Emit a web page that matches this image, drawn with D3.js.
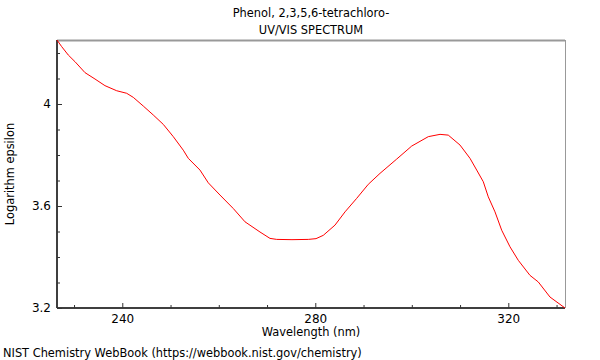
<!DOCTYPE html>
<html><head><meta charset="utf-8">
<script src="https://cdn.jsdelivr.net/npm/d3@7"></script>
<style>body{margin:0;background:#fff}svg{display:block}text{font-family:"DejaVu Sans",sans-serif;fill:#000}</style>
</head><body><svg id="c" width="600" height="360"></svg>
<script>
const wavelength = [226.47,227.44,228.81,230.20,232.27,234.34,236.41,238.84,240.91,242.28,244.35,246.42,248.50,250.57,252.64,253.68,256.10,257.82,260.25,263.01,265.43,268.54,270.61,272.00,275.17,278.55,280.15,281.66,284.08,286.16,288.58,290.98,293.41,296.87,299.98,303.42,305.85,307.56,309.99,312.06,313.45,314.82,315.85,317.24,318.63,320.35,322.07,324.49,326.22,328.64,331.75];
const logEps = [4.251,4.225,4.192,4.166,4.123,4.098,4.072,4.052,4.042,4.026,3.992,3.957,3.920,3.872,3.819,3.787,3.741,3.691,3.643,3.590,3.538,3.498,3.473,3.469,3.468,3.469,3.472,3.485,3.525,3.577,3.630,3.685,3.728,3.784,3.835,3.872,3.881,3.878,3.839,3.787,3.741,3.695,3.636,3.577,3.505,3.440,3.387,3.328,3.302,3.243,3.200];
const xMajor = [240,280,320];
const xMinor = [230,250,260,270,290,300,310,330];
const yMajor = [3.2,3.6,4.0];
const yMinor = [3.3,3.4,3.5,3.7,3.8,3.9,4.1,4.2];
const titleLines = ["Phenol, 2,3,5,6-tetrachloro-","UV/VIS SPECTRUM"];

const L=57,R=565,T=40,B=308;
const FS=11.4;
const svg=d3.select("#c");
const x=d3.scaleLinear().domain([226.47,331.75]).range([L,R]);
const y=d3.scaleLinear().domain([3.2,4.251]).range([B,T]);

// frame
svg.append("line").attr("x1",L).attr("x2",R).attr("y1",T+0.5).attr("y2",T+0.5).attr("stroke","#999").attr("stroke-width",2);
svg.append("line").attr("x1",R+0.5).attr("x2",R+0.5).attr("y1",T).attr("y2",B).attr("stroke","#999").attr("stroke-width",1);

// x axis
const gx=svg.append("g").attr("transform",`translate(0,${B})`);
gx.call(d3.axisBottom(x).tickValues(xMajor).tickSize(-5).tickPadding(6).tickFormat(d3.format("d")));
gx.append("g").call(d3.axisBottom(x).tickValues(xMinor).tickSize(-3).tickFormat(""));
// y axis
const gy=svg.append("g").attr("transform",`translate(${L},0)`);
gy.call(d3.axisLeft(y).tickValues(yMajor).tickSize(-5).tickPadding(6).tickFormat(d3.format(".1~f")));
gy.append("g").call(d3.axisLeft(y).tickValues(yMinor).tickSize(-3).tickFormat(""));
svg.selectAll(".domain").attr("stroke","#333").attr("stroke-width",1.5);
svg.selectAll(".tick line").attr("stroke","#333");
svg.selectAll(".tick text").attr("font-size",12).attr("font-family","DejaVu Sans, sans-serif");
gx.selectAll(".domain").attr("d",`M${L},0H${R}`);
gy.selectAll(".domain").attr("d",`M0,${T}V${B}`);

// line
svg.append("path").datum(wavelength.map((w,i)=>[w,logEps[i]]))
  .attr("fill","none").attr("stroke","#ff0000").attr("stroke-width",1)
  .attr("d",d3.line().x(d=>x(d[0])).y(d=>y(d[1])));

// texts
titleLines.forEach((t,i)=>svg.append("text").attr("x",(L+R)/2).attr("y",17+i*17).attr("text-anchor","middle").attr("font-size",FS).text(t));
svg.append("text").attr("x",(L+R)/2).attr("y",336).attr("text-anchor","middle").attr("font-size",FS).text("Wavelength (nm)");
svg.append("text").attr("transform",`translate(14,${(T+B)/2}) rotate(-90)`).attr("text-anchor","middle").attr("font-size",FS).text("Logarithm epsilon");
svg.append("text").attr("x",3).attr("y",357).attr("font-size",FS).text("NIST Chemistry WebBook (https://webbook.nist.gov/chemistry)");
</script></body></html>
